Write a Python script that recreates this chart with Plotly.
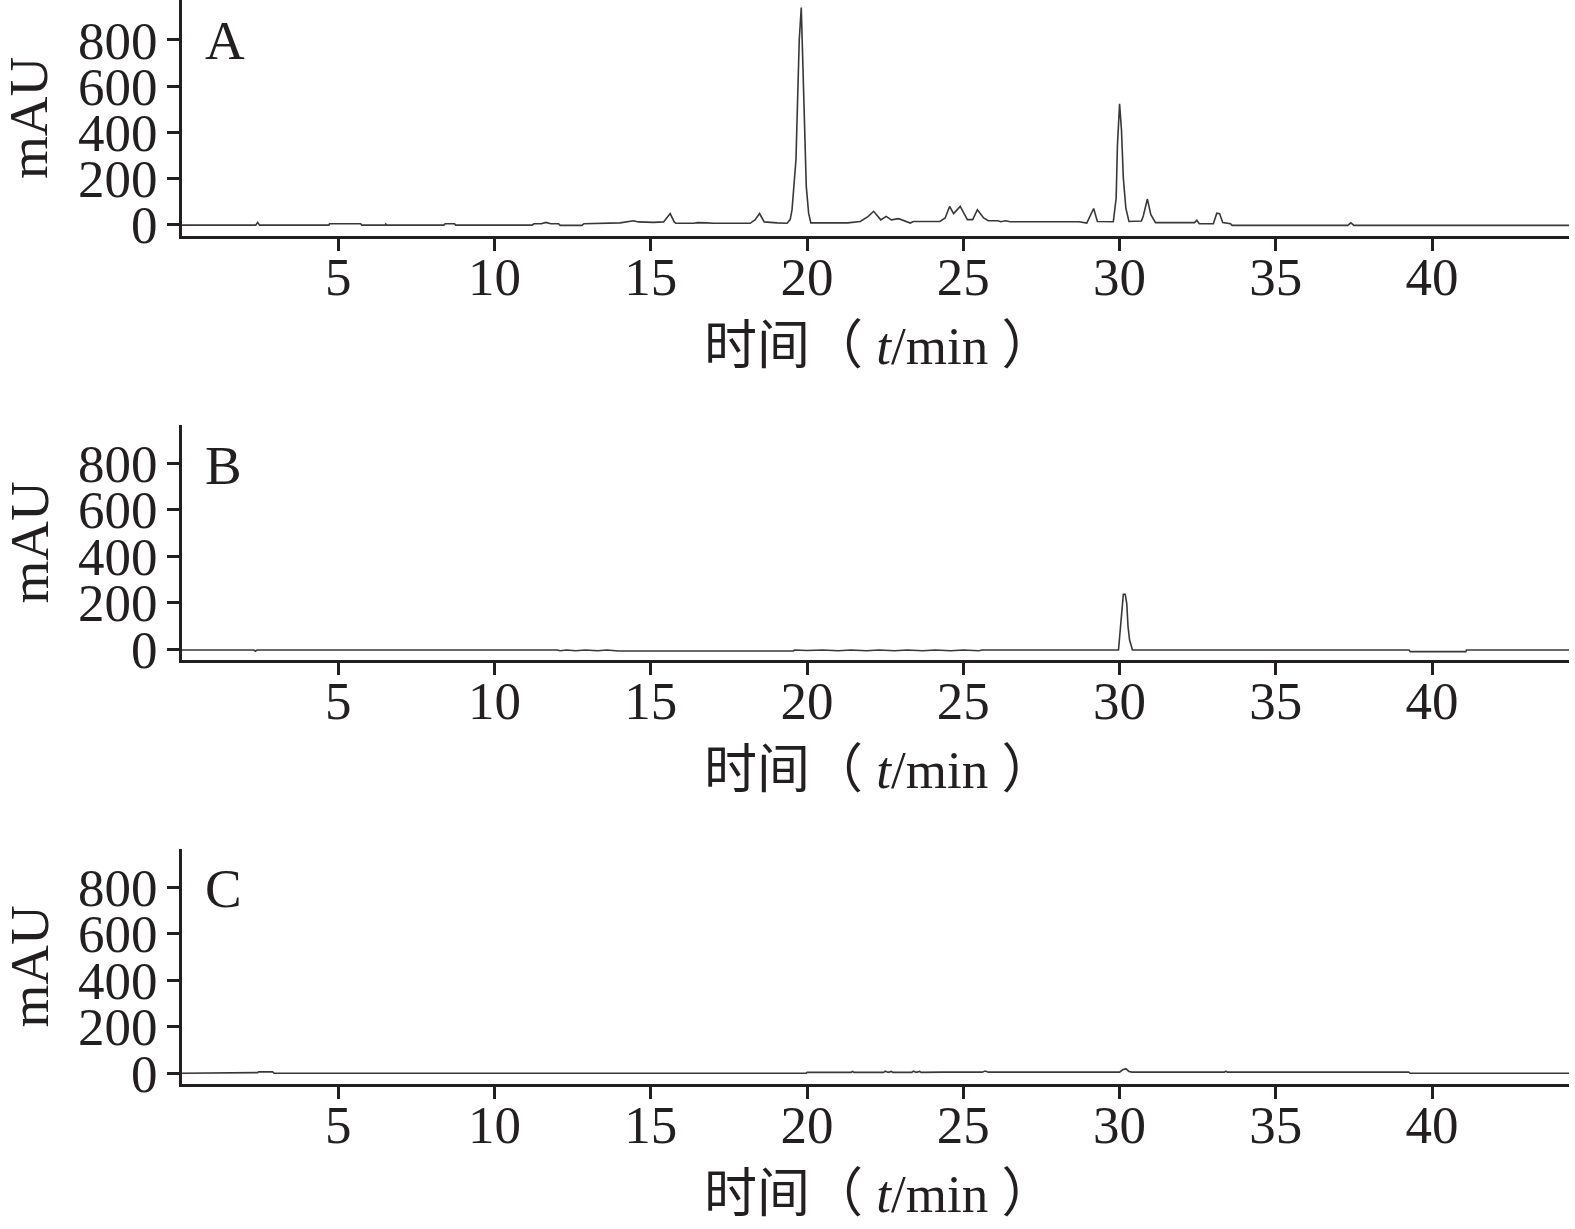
import plotly.graph_objects as go

# ---------------- data ----------------
time_A = [0.0, 2.36, 2.42, 2.48, 4.70, 4.72, 5.72, 5.75, 6.50, 6.52, 6.55, 8.38, 8.42, 8.72, 8.76,
          11.20, 11.26, 11.50, 11.64, 11.80, 12.05, 12.10, 12.80, 12.86, 14.02, 14.30, 14.45, 14.60,
          15.09, 15.41, 15.62, 15.75, 15.80, 16.37, 16.50, 16.79, 17.00, 18.18, 18.34, 18.48, 18.63,
          19.04, 19.36, 19.46, 19.52, 19.645, 19.69, 19.75, 19.815, 19.857, 19.91, 19.975, 20.05,
          20.12, 20.5, 21.0, 21.3, 21.7, 21.95, 22.13, 22.25, 22.36, 22.53, 22.7, 22.93, 23.1, 23.3,
          23.4, 24.25, 24.42, 24.56, 24.69, 24.9, 25.13, 25.3, 25.45, 25.65, 25.8, 26.1, 26.2, 26.35,
          26.5, 28.7, 28.95, 29.17, 29.29, 29.8, 29.89, 29.93, 30.0, 30.06, 30.12, 30.2, 30.3, 30.5,
          30.7, 30.76, 30.89, 31.0, 31.15, 32.4, 32.47, 32.55, 33.0, 33.11, 33.2, 33.3, 33.55, 33.6,
          37.3, 37.4, 37.5, 44.4]
mAU_A = [-2, -2, 10, -2, -2, 4, 4, -2, -2, 3, -2, -2, 4, 4, -2,
         -2, 4, 4, 10, 4, 4, -3, -3, 4, 8, 12, 17, 12,
         10, 12, 48, 12, 6, 6, 9, 8, 6, 6, 22, 48, 12,
         8, 6, 22, 65, 281, 512, 800, 940, 743, 411, 166, 50,
         8, 8, 6, 8, 14, 35, 58, 40, 21, 36, 21, 26, 17, 7,
         14, 14, 29, 79, 48, 79, 22, 22, 65, 29, 17, 17, 13, 17,
         13, 13, 7, 70, 14, 13, 115, 339, 523, 411, 202, 72, 14, 16,
         16, 39, 111, 43, 9, 9, 19, 4, 4, 50, 48, 9, 4, -3,
         -3, 8, -3, -3]

time_B = [0.0, 2.30, 2.35, 2.40, 12.0, 12.1, 12.3, 12.6, 12.9, 13.3, 13.6, 13.96, 19.56, 19.6, 20.0,
          20.5, 21.0, 21.4, 21.9, 22.3, 22.8, 23.2, 23.7, 24.1, 24.6, 25.0, 25.5, 25.6, 29.965,
          29.99, 30.06, 30.12, 30.18, 30.23, 30.27, 30.32, 30.39, 30.41, 39.26, 39.3, 41.08, 41.1, 44.4]
mAU_B = [-3, -3, -8, -3, -3, -6, -3, -6, -3, -6, -3, -7, -7, -3, -5,
         -3, -6, -3, -6, -3, -6, -3, -6, -3, -6, -3, -6, -3, -3,
         36, 141, 237, 237, 197, 98, 40, 8, -3, -3, -10, -10, -3, -3]

time_C = [0.0, 2.4, 2.42, 2.45, 2.9, 2.95, 11.55, 11.6, 11.65, 19.97, 20.0, 21.4, 21.46, 21.5,
          22.45, 22.5, 22.6, 22.7, 22.75, 23.35, 23.4, 23.5, 23.6, 23.65, 24.34, 25.24, 25.6, 25.7,
          25.8, 26.6, 30.0, 30.1, 30.2, 30.3, 30.4, 33.35, 33.4, 33.45, 39.25, 39.3, 44.4]
mAU_C = [0, 0, 3, 6, 6, 0, 0, 3, 0, 0, 4, 4, 8, 4,
         4, 9, 4, 8, 4, 4, 9, 4, 8, 4, 5, 5, 5, 10,
         5, 5, 5, 15, 20, 8, 5, 5, 9, 5, 5, 0, 0]

panel_labels = ["A", "B", "C"]
x_ticks = [5, 10, 15, 20, 25, 30, 35, 40]
y_ticks = [0, 200, 400, 600, 800]
x_title = "时间（ <i>t</i>/min ）"
y_title = "mAU"

# ---------------- figure ----------------
W, H = 1575, 1229
ML, MR, MT, MB = 182, 6, 0, 145
PW, PH = W - ML - MR, H - MT - MB

INK = "#231f20"
LINE = "#383838"
FONT = "Liberation Serif, 'Noto Sans CJK SC', serif"
FS = 53

# pixel positions (top, bottom) of each panel's plot area
panels_px = [(0, 236), (425, 660), (849, 1084)]
y_ranges = [[-49, 973], [-46, 965], [-46, 965]]

def py(px):  # pixel y -> paper y
    return (PH - (px - MT)) / PH

def px_(x):  # pixel x -> paper x
    return (x - ML) / PW

fig = go.Figure()
series = [(time_A, mAU_A), (time_B, mAU_B), (time_C, mAU_C)]
for i, (t, v) in enumerate(series):
    sfx = "" if i == 0 else str(i + 1)
    fig.add_trace(go.Scatter(x=t, y=v, mode="lines", line=dict(color=LINE, width=1.6),
                             xaxis="x" + sfx, yaxis="y" + sfx, showlegend=False,
                             hoverinfo="skip"))

layout = dict(width=W, height=H,
              margin=dict(l=ML, r=MR, t=MT, b=MB, autoexpand=False),
              paper_bgcolor="white", plot_bgcolor="white",
              font=dict(family=FONT, size=FS, color=INK), showlegend=False)

annotations = []
for i, (top, bot) in enumerate(panels_px):
    sfx = "" if i == 0 else str(i + 1)
    layout["xaxis" + sfx] = dict(
        domain=[0, 1], anchor="y" + sfx, range=[0, 44.38], automargin=False,
        tickmode="array", tickvals=x_ticks, ticks="outside", ticklen=12, tickwidth=3,
        tickcolor=INK, showline=True, linecolor=INK, linewidth=3, showgrid=False,
        zeroline=False, ticklabelstandoff=-20, tickfont=dict(family=FONT, size=FS, color=INK))
    layout["yaxis" + sfx] = dict(
        domain=[py(bot), py(top)], anchor="x" + sfx, range=y_ranges[i], automargin=False,
        tickmode="array", tickvals=y_ticks, ticks="outside", ticklen=12, tickwidth=3,
        tickcolor=INK, showline=True, linecolor=INK, linewidth=3, showgrid=False,
        zeroline=False, ticklabelstandoff=-1, tickfont=dict(family=FONT, size=FS, color=INK))
    # panel letter
    annotations.append(dict(text=panel_labels[i], xref="paper", yref="paper",
                            x=px_(203), y=py(top + 40), xanchor="left", yanchor="middle",
                            showarrow=False, font=dict(family=FONT, size=FS + 2, color=INK)))
    # x title
    annotations.append(dict(text=x_title, xref="paper", yref="paper",
                            x=px_(879), y=py(bot + 110), xanchor="center", yanchor="middle",
                            showarrow=False, font=dict(family=FONT, size=FS, color=INK)))
    # y title
    annotations.append(dict(text=y_title, xref="paper", yref="paper",
                            x=px_(29), y=py((top + bot) / 2), xanchor="center", yanchor="middle",
                            textangle=-90, showarrow=False,
                            font=dict(family=FONT, size=FS + 2, color=INK)))

layout["annotations"] = annotations
fig.update_layout(**layout)
fig.write_html("out.html", config={"displayModeBar": False},
               post_script="document.body.style.margin='0px';document.body.style.overflow='hidden';")
